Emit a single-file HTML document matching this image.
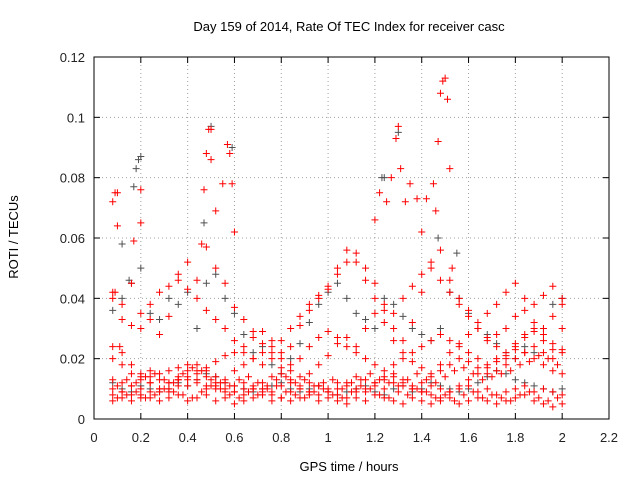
<!DOCTYPE html>
<html><head><meta charset="utf-8"><style>
body{margin:0;background:#fff;}
svg{display:block;font-family:"Liberation Sans",sans-serif;}
</style></head><body>
<svg id="chart" width="640" height="480">
<text x="349" y="31" font-size="13" text-anchor="middle">Day 159 of 2014, Rate Of TEC Index for receiver casc</text>
<text x="18" y="237" font-size="13" text-anchor="middle" transform="rotate(-90 18 237)">ROTI / TECUs</text>
<text x="349" y="471" font-size="13" text-anchor="middle">GPS time / hours</text>
<g id="grid"></g><g id="ticks"></g><g id="marks"></g>
<rect x="94" y="57" width="515" height="362" fill="none" stroke="#000" stroke-width="1"/>
</svg>
<script>
const xTicks=[0,0.2,0.4,0.6,0.8,1,1.2,1.4,1.6,1.8,2,2.2];
const xTickLabels=["0","0.2","0.4","0.6","0.8","1","1.2","1.4","1.6","1.8","2","2.2"];
const yTicks=[0,0.02,0.04,0.06,0.08,0.1,0.12];
const yTickLabels=["0","0.02","0.04","0.06","0.08","0.1","0.12"];
const times=[0.08,0.12,0.16,0.20,0.24,0.28,0.32,0.36,0.40,0.44,0.48,0.52,0.56,0.60,0.64,0.68,0.72,0.76,0.80,0.84,0.88,0.92,0.96,1.00,1.04,1.08,1.12,1.16,1.20,1.24,1.28,1.32,1.36,1.40,1.44,1.48,1.52,1.56,1.60,1.64,1.68,1.72,1.76,1.80,1.84,1.88,1.92,1.96,2.00];
const times2=[0.10,0.14,0.18,0.22,0.26,0.30,0.34,0.38,0.42,0.46,0.50,0.54,0.58,0.62,0.66,0.70,0.74,0.78,0.82,0.86,0.90,0.94,0.98,1.02,1.06,1.10,1.14,1.18,1.22,1.26,1.30,1.34,1.38,1.42,1.46,1.50,1.54,1.58,1.62,1.66,1.70,1.74,1.78,1.82,1.86,1.90,1.94,1.98];
const red1=[.006,.007,.006,.008,.007,.006,.007,.008,.006,.007,.008,.006,.007,.005,.006,.007,.008,.006,.007,.006,.007,.008,.006,.007,.006,.005,.007,.006,.008,.007,.006,.005,.007,.006,.005,.006,.007,.005,.006,.007,.006,.005,.006,.007,.008,.006,.005,.004,.005];
const red2=[.010,.009,.011,.010,.012,.009,.010,.013,.011,.012,.010,.011,.012,.009,.010,.011,.010,.009,.011,.012,.010,.009,.011,.010,.012,.011,.010,.009,.011,.010,.012,.011,.010,.009,.011,.010,.009,.010,.011,.009,.010,.008,.009,.010,.011,.009,.010,.009,.008];
const red3=[.013,.012,.011,.013,.014,.015,.016,.017,.018,.016,.014,.012,.010,.009,.008,.010,.012,.014,.015,.013,.011,.009,.008,.009,.010,.012,.014,.013,.012,.014,.015,.013,.011,.012,.014,.016,.018,.020,.019,.017,.015,.016,.018,.020,.022,.024,.022,.020,.022];
const red4=[.020,.022,.018,.015,.012,.010,.009,.011,.013,.015,.017,.019,.021,.022,.024,.027,.029,.026,.022,.018,.020,.024,.027,.029,.027,.024,.022,.020,.018,.016,.018,.020,.022,.024,.026,.028,.026,.024,.022,.020,.018,.020,.022,.025,.027,.029,.026,.023,.023];
const red5=[.040,.033,.031,.035,.038,.042,.044,.046,.043,.040,.036,.033,.030,.026,.022,.020,.018,.022,.026,.030,.034,.038,.041,.044,.048,.052,.055,.050,.045,.038,.035,.040,.044,.048,.050,.046,.042,.038,.034,.032,.035,.038,.042,.045,.040,.038,.041,.044,.040];
const red6=[.042,.038,.045,.030,.033,.028,.034,.048,.052,.046,.057,.050,.045,.037,.033,.029,.025,.020,.017,.024,.031,.036,.040,.043,.050,.056,.052,.046,.040,.036,.030,.026,.032,.042,.052,.056,.046,.040,.036,.030,.026,.028,.030,.034,.036,.032,.030,.034,.038];
const red7=[.008,.009,.008,.007,.009,.010,.012,.013,.014,.013,.011,.010,.009,.011,.012,.010,.009,.008,.007,.009,.010,.012,.011,.009,.008,.007,.009,.010,.012,.013,.014,.012,.010,.009,.008,.007,.009,.011,.013,.015,.017,.019,.021,.023,.022,.020,.018,.016,.015];
const red8=[.024,.018,.015,.014,.016,.013,.012,.014,.016,.018,.016,.014,.013,.016,.018,.020,.022,.024,.020,.016,.014,.015,.018,.021,.025,.027,.024,.030,.035,.032,.026,.022,.019,.017,.015,.018,.022,.025,.028,.030,.027,.024,.020,.024,.028,.030,.028,.025,.030];
const red9=[.007,.008,.009,.007,.008,.010,.009,.008,.007,.009,.011,.010,.008,.007,.009,.008,.010,.011,.009,.008,.007,.009,.010,.008,.007,.009,.011,.010,.008,.007,.009,.008,.010,.009,.007,.008,.006,.008,.009,.007,.008,.007,.006,.008,.009,.007,.006,.007];
const red10=[.011,.013,.012,.014,.015,.013,.012,.015,.017,.016,.013,.012,.011,.013,.014,.012,.011,.013,.014,.012,.013,.011,.012,.013,.010,.012,.013,.015,.013,.012,.011,.013,.015,.013,.012,.014,.016,.017,.015,.013,.014,.015,.016,.018,.019,.021,.020,.018];
const gray1=[.012,.010,.009,.011,.010,.009,.010,.012,.011,.013,.015,.014,.012,.011,.010,.009,.010,.011,.012,.010,.009,.010,.011,.009,.008,.009,.010,.011,.009,.008,.010,.011,.009,.010,.012,.011,.010,.009,.010,.012,.014,.016,.015,.013,.012,.011,.010,.009,.010];
const gray2=[.036,.040,.045,.050,.035,.033,.040,.038,.042,.030,.045,.048,.040,.035,.028,.022,.024,.018,.015,.020,.025,.032,.038,.042,.045,.040,.035,.033,.030,.040,.038,.034,.030,.028,.026,.030,.042,.040,.035,.030,.028,.025,.022,.020,.024,.022,.030,.038,.040];
const redPeakTimes=[0.08,0.09,0.10,0.10,0.17,0.20,0.20,0.48,0.49,0.50,0.50,0.47,0.52,0.55,0.57,0.58,0.59,0.60,1.30,1.29,1.31,1.27,1.25,1.22,1.20,1.33,1.35,1.38,1.42,1.45,1.46,1.47,1.48,1.49,1.50,1.51,1.52,1.53,0.09,0.11,0.46,1.40];
const redPeakRoti=[0.072,0.075,0.064,0.075,0.059,0.076,0.065,0.088,0.096,0.096,0.086,0.076,0.069,0.078,0.091,0.088,0.078,0.062,0.097,0.093,0.083,0.080,0.072,0.075,0.066,0.072,0.078,0.073,0.073,0.078,0.069,0.092,0.108,0.112,0.113,0.106,0.083,0.050,0.042,0.024,0.058,0.062];
const grayPeakTimes=[0.18,0.19,0.20,0.17,0.12,1.23,1.24,1.30,1.47,0.59,0.50,0.47,0.15,1.55];
const grayPeakRoti=[0.083,0.086,0.087,0.077,0.058,0.080,0.080,0.095,0.060,0.090,0.097,0.065,0.046,0.055];

const L=94,R=609,T=57,B=419;
const xs=v=>L+v/2.2*(R-L);
const ys=v=>B-v/0.12*(B-T);
const NS="http://www.w3.org/2000/svg";
const grid=document.getElementById('grid'),ticks=document.getElementById('ticks'),marks=document.getElementById('marks');
function mk(tag,attrs,parent){const e=document.createElementNS(NS,tag);for(const k in attrs)e.setAttribute(k,attrs[k]);parent.appendChild(e);return e;}
xTicks.forEach((v,i)=>{
  const x=xs(v);
  if(i>0&&i<xTicks.length-1){const g=mk('line',{x1:x,x2:x,y1:T,y2:B,stroke:'#a0a0a0','stroke-dasharray':'1,3'},grid);
  
  }
  mk('line',{x1:x,x2:x,y1:B,y2:B-6,stroke:'#000'},ticks);
  mk('line',{x1:x,x2:x,y1:T,y2:T+6,stroke:'#000'},ticks);
  const t=mk('text',{x:x,y:B+23,'font-size':13,'text-anchor':'middle',fill:'#222'},ticks);t.textContent=xTickLabels[i];
  
  
});
yTicks.forEach((v,i)=>{
  const y=ys(v);
  if(i>0&&i<yTicks.length-1){const g=mk('line',{x1:L,x2:R,y1:y,y2:y,stroke:'#a0a0a0','stroke-dasharray':'1,3'},grid);
  
  }
  mk('line',{x1:L,x2:L+6,y1:y,y2:y,stroke:'#000'},ticks);
  mk('line',{x1:R,x2:R-6,y1:y,y2:y,stroke:'#000'},ticks);
  const t=mk('text',{x:L-9,y:y+5,'font-size':13,'text-anchor':'end',fill:'#222'},ticks);t.textContent=yTickLabels[i];
  
  
});
function plus(t,v,color,name){
  const x=xs(t),y=ys(v);
  const p=mk('path',{d:`M${x-3.5},${y}H${x+3.5}M${x},${y-3.5}V${y+3.5}`,stroke:color,'stroke-width':1,fill:'none'},marks);
  
  
}
[gray1,gray2].forEach(s=>s.forEach((v,i)=>{if(v!=null)plus(times[i],v,'#505050','gray-point');}));
grayPeakTimes.forEach((t,i)=>plus(t,grayPeakRoti[i],'#505050','gray-point'));
[red1,red2,red3,red4,red5,red6,red7,red8].forEach(s=>s.forEach((v,i)=>{if(v!=null)plus(times[i],v,'#ff0000','red-point');}));
[red9,red10].forEach(s=>s.forEach((v,i)=>{if(v!=null)plus(times2[i],v,'#ff0000','red-point');}));
redPeakTimes.forEach((t,i)=>plus(t,redPeakRoti[i],'#ff0000','red-point'));
</script>
</body></html>
